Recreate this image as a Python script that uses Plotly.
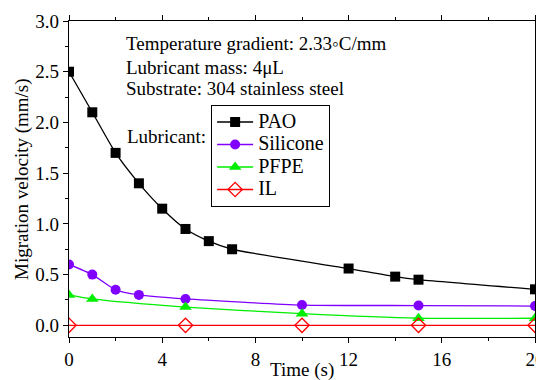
import plotly.graph_objects as go

pao_t = [0, 1, 2, 3, 4, 5, 6, 7, 12, 14, 15, 20]
pao_v = [2.5, 2.1, 1.7, 1.4, 1.15, 0.95, 0.83, 0.75, 0.56, 0.48, 0.45, 0.355]
sil_t = [0, 1, 2, 3, 5, 10, 15, 20]
sil_v = [0.6, 0.5, 0.35, 0.30, 0.26, 0.20, 0.195, 0.19]
pfpe_t = [0, 1, 5, 10, 15, 20]
pfpe_v = [0.30, 0.26, 0.18, 0.115, 0.07, 0.07]
il_t = [0, 5, 10, 15, 20]
il_v = [0, 0, 0, 0, 0]

x_ticks = [0, 4, 8, 12, 16, 20]
y_ticks = [0, 0.5, 1.0, 1.5, 2.0, 2.5, 3.0]
y_ticklabels = ["0.0", "0.5", "1.0", "1.5", "2.0", "2.5", "3.0"]

FONT = "Liberation Serif, Times New Roman, serif"
FS = 19


def lg(name):
    return "<span style='font-size:20px'>" + name + "</span>"


fig = go.Figure()
fig.add_trace(go.Scatter(x=pao_t, y=pao_v, name=lg("PAO"), mode="lines+markers",
                         line=dict(color="black", width=1.3, shape="spline", smoothing=0.6),
                         marker=dict(symbol="square", size=10, color="black")))
fig.add_trace(go.Scatter(x=sil_t, y=sil_v, name=lg("Silicone"), mode="lines+markers",
                         line=dict(color="#8000ff", width=1.3, shape="spline", smoothing=0.6),
                         marker=dict(symbol="circle", size=10, color="#8000ff")))
fig.add_trace(go.Scatter(x=pfpe_t, y=pfpe_v, name=lg("PFPE"), mode="lines+markers",
                         line=dict(color="#00ee00", width=1.3, shape="spline", smoothing=0.6),
                         marker=dict(symbol="triangle-up", size=11, color="#00ee00")))
fig.add_trace(go.Scatter(x=il_t, y=il_v, name=lg("IL"), mode="lines+markers",
                         line=dict(color="#ff0000", width=1.3),
                         marker=dict(symbol="diamond-open", size=11, color="#ff0000",
                                     line=dict(width=1.3, color="#ff0000"))))

axis_common = dict(showline=True, linecolor="black", linewidth=1.3, mirror="ticks",
                   ticks="outside", ticklen=5, tickcolor="black", tickwidth=1.3,
                   showgrid=False, zeroline=False, automargin=False,
                   ticklabeloverflow="allow",
                   tickfont=dict(family=FONT, size=FS, color="black"))

fig.update_xaxes(range=[0, 20], tickmode="array", tickvals=x_ticks,
                 minor=dict(ticks="outside", ticklen=3, tickwidth=1.3, tickcolor="black", dtick=2, tick0=0),
                 **axis_common)
fig.update_yaxes(range=[-0.115, 3.0], tickmode="array", tickvals=y_ticks, ticktext=y_ticklabels,
                 minor=dict(ticks="outside", ticklen=3, tickwidth=1.3, tickcolor="black", dtick=0.25, tick0=0),
                 **axis_common)

# axis titles as annotations
fig.add_annotation(text="Time (s)", xref="paper", yref="paper", x=0.5, y=0,
                   xanchor="center", yanchor="middle", yshift=-33, showarrow=False,
                   font=dict(family=FONT, size=FS, color="black"))
fig.add_annotation(text="Migration velocity (mm/s)", xref="paper", yref="paper", x=0, y=0.5,
                   xanchor="center", yanchor="middle", xshift=-47, textangle=-90, showarrow=False,
                   font=dict(family=FONT, size=FS, color="black"))

texts = [("Temperature gradient: 2.33◦C/mm", 0.930),
         ("Lubricant mass: 4μL", 0.854),
         ("Substrate: 304 stainless steel", 0.785)]
for t, yy in texts:
    fig.add_annotation(text=t, xref="paper", yref="paper", x=0.118, y=yy,
                       xanchor="left", yanchor="middle", showarrow=False,
                       font=dict(family=FONT, size=FS, color="black"))
fig.add_annotation(text="Lubricant:", xref="paper", yref="paper", x=0.12, y=0.633,
                   xanchor="left", yanchor="middle", showarrow=False,
                   font=dict(family=FONT, size=FS, color="black"))

# page body has an 8px margin: figure is shrunk/shifted so the plot lands where the reference has it
fig.update_layout(width=536, height=372, plot_bgcolor="white", paper_bgcolor="white",
                  margin=dict(l=61, r=9, t=13, b=43),
                  showlegend=True,
                  legend=dict(x=0.305, y=0.735, xanchor="left", yanchor="top",
                              bordercolor="black", borderwidth=1, bgcolor="white",
                              font=dict(family=FONT, size=15, color="black"),
                              tracegroupgap=0, itemwidth=36))

fig.write_html("out.html")
